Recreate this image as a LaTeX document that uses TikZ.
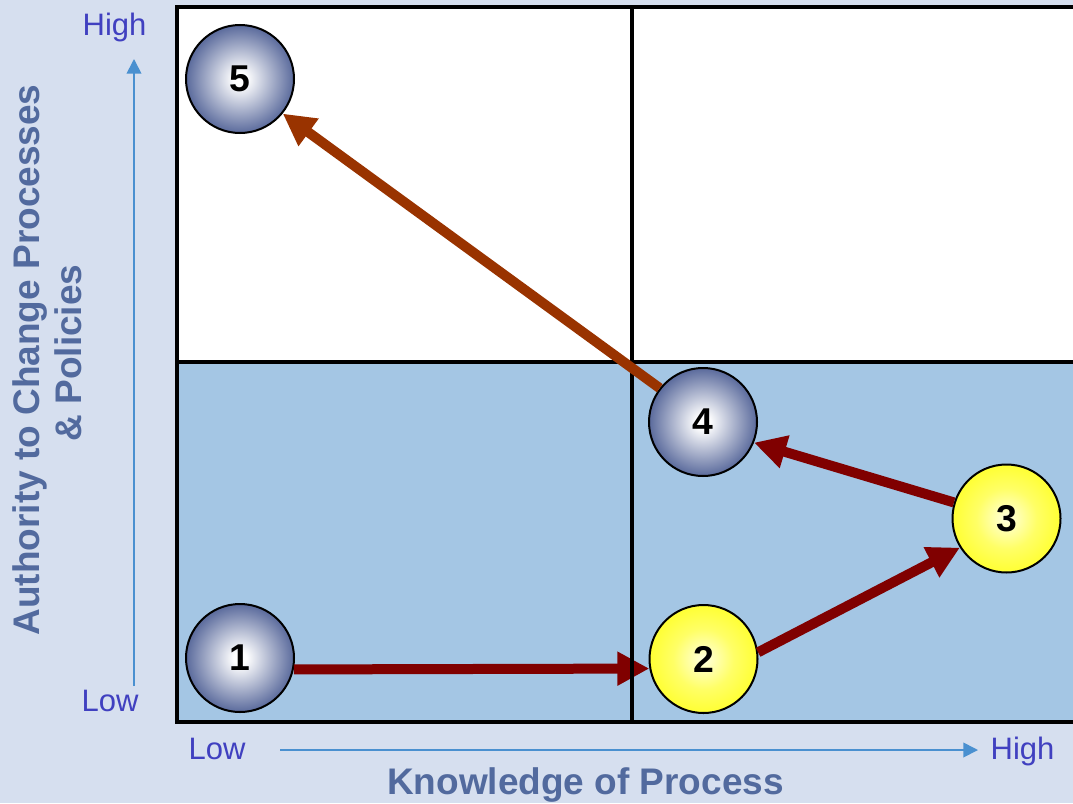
\documentclass[tikz,border=0pt]{standalone}
\usepackage{fontspec}
\setmainfont{Liberation Sans}
\usetikzlibrary{arrows.meta}
\definecolor{bgc}{HTML}{D6DFEF}
\definecolor{lowfill}{HTML}{A4C6E4}
\definecolor{titlec}{HTML}{526A9E}
\definecolor{labelc}{HTML}{4040C0}
\definecolor{axisc}{HTML}{4A90D0}
\definecolor{darkred}{HTML}{800000}
\definecolor{rust}{HTML}{993300}
\definecolor{ballblue}{HTML}{5A6A9C}
\definecolor{ballyel}{HTML}{FFFF33}
\definecolor{yelmid}{HTML}{FFFF66}
\definecolor{yelcen}{HTML}{FFFFE0}
\pgfdeclareradialshading{blueball}{\pgfpointorigin}{color(0bp)=(white); color(3bp)=(white); color(25bp)=(ballblue); color(50bp)=(ballblue)}
\pgfdeclareradialshading{yellowball}{\pgfpointorigin}{color(0bp)=(yelcen); color(14bp)=(yelmid); color(25bp)=(ballyel); color(50bp)=(ballyel)}
\tikzset{
  ball/.style={circle, draw=black, line width=1.5pt, minimum size=81pt, inner sep=0pt,
    font=\fontsize{28}{30}\selectfont\bfseries},
  blueb/.style={ball, shade, shading=blueball},
  yellowb/.style={ball, shade, shading=yellowball},
  flow/.style={line width=7.5pt, -{Triangle[length=24pt,width=24pt]}},
  axisarrow/.style={draw=axisc, line width=1.3pt, -{Triangle[length=11pt,width=11pt]}},
  gridline/.style={line width=3pt, black},
  lbl/.style={anchor=base, text=labelc, font=\fontsize{23.25}{26}\selectfont},
  title/.style={anchor=base, text=titlec, font=\fontsize{27.75}{30}\selectfont\bfseries}
}
\begin{document}
\begin{tikzpicture}[x=0.75pt, y=-0.75pt]
\useasboundingbox (0,0) rectangle (1073,803);
\clip (0,0) rectangle (1073,803);
\fill[bgc] (0,0) rectangle (1073,803);
% quadrants
\fill[white] (177,7) rectangle (1090,362);
\fill[lowfill] (177,362) rectangle (1090,722);
% balls
\node[blueb] (c1) at (240,658) {1};
\node[yellowb] (c2) at (703.5,659) {2};
\node[yellowb] (c3) at (1006.5,518.5) {3};
\node[blueb] (c4) at (703,422) {4};
\node[blueb] (c5) at (240,79) {5};
% arrow 1 -> 2
\draw[flow, darkred] (c1.-12) -- (c2.190);
% grid
\draw[gridline] (177,7) rectangle (1090,722);
\draw[gridline] (632,7) -- (632,722);
\draw[gridline] (177,362) -- (1090,362);
% other arrows
\draw[flow, darkred] (c2.7) -- (c3.212);
\draw[flow, darkred] (c3.163) -- (c4.-22);
\draw[flow, rust] (c4.142) -- (c5.-39);
% axes
\coordinate (ya) at (134,686);
\coordinate (yb) at (134,59);
\coordinate (xa) at (280,750);
\coordinate (xb) at (978,750);
\draw[axisarrow] (ya) -- (yb);
\draw[axisarrow] (xa) -- (xb);
\node[lbl] (yhigh) at (114.5,36) {High};
\node[lbl] (ylow) at (110,711) {Low};
\node[lbl] (xlow) at (217,759) {Low};
\node[lbl] (xhigh) at (1022.5,759) {High};
\node[title] (xtitle) at (585.5,794) {Knowledge of Process};
\node[title, rotate=90] (ytitle1) at (39,360) {Authority to Change Processes};
\node[title, rotate=90] (ytitle2) at (81,353) {\& Policies};
\end{tikzpicture}
\end{document}
